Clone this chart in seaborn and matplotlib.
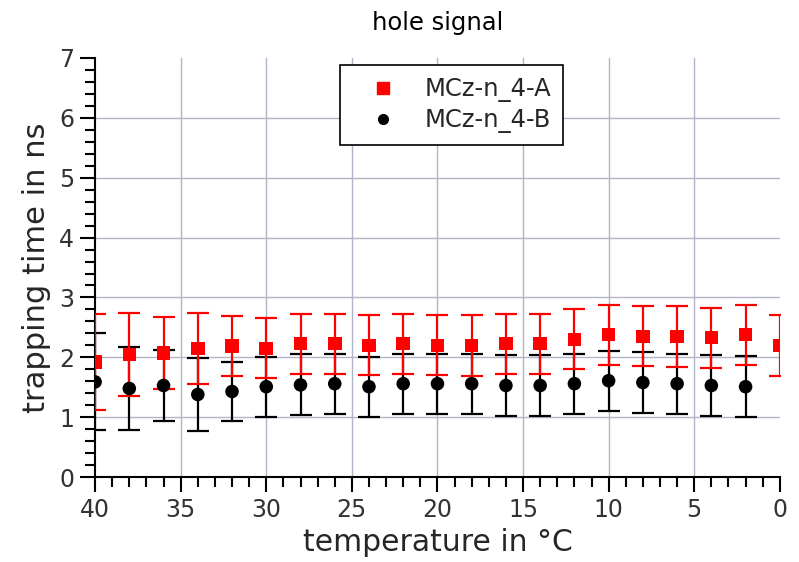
import numpy as np
import pandas as pd
import matplotlib
matplotlib.use("Agg")
import matplotlib.pyplot as plt
from matplotlib.ticker import MultipleLocator
from matplotlib.lines import Line2D
import seaborn as sns

temp_a = [40, 38, 36, 34, 32, 30, 28, 26, 24, 22, 20, 18, 16, 14, 12, 10, 8, 6, 4, 2, 0]
tau_a = [1.92, 2.05, 2.07, 2.15, 2.19, 2.15, 2.23, 2.23, 2.20, 2.23, 2.20,
         2.20, 2.23, 2.23, 2.30, 2.38, 2.35, 2.35, 2.33, 2.38, 2.20]
err_a = [0.80, 0.69, 0.60, 0.59, 0.50, 0.50, 0.50, 0.50, 0.50, 0.50, 0.50,
         0.51, 0.50, 0.50, 0.50, 0.50, 0.50, 0.51, 0.50, 0.50, 0.51]

temp_b = [40, 38, 36, 34, 32, 30, 28, 26, 24, 22, 20, 18, 16, 14, 12, 10, 8, 6, 4, 2]
tau_b = [1.59, 1.48, 1.53, 1.38, 1.43, 1.51, 1.54, 1.56, 1.51, 1.56,
         1.56, 1.56, 1.53, 1.53, 1.56, 1.61, 1.58, 1.56, 1.53, 1.51]
err_b = [0.81, 0.70, 0.60, 0.61, 0.50, 0.50, 0.51, 0.50, 0.50, 0.50,
         0.50, 0.50, 0.51, 0.51, 0.50, 0.50, 0.51, 0.50, 0.51, 0.51]

labels = ["MCz-n_4-A", "MCz-n_4-B"]
colors = ["#ff0000", "#000000"]

sns.set_style("white")
plt.rcParams['font.family'] = ['DejaVu Sans']

fig = plt.figure(figsize=(7.99, 5.62), dpi=100)
ax = fig.add_axes([0.119, 0.151, 0.857, 0.746])

df = pd.concat([
    pd.DataFrame({"temp": temp_a, "tau": tau_a, "sample": labels[0]}),
    pd.DataFrame({"temp": temp_b, "tau": tau_b, "sample": labels[1]}),
])

ax.errorbar(temp_b, tau_b, yerr=err_b, fmt='none', ecolor=colors[1],
            elinewidth=1.6, capsize=8, capthick=1.6, zorder=3)
ax.errorbar(temp_a, tau_a, yerr=err_a, fmt='none', ecolor=colors[0],
            elinewidth=1.6, capsize=8, capthick=1.6, zorder=3)

sns.scatterplot(data=df, x="temp", y="tau", hue="sample", style="sample",
                palette=dict(zip(labels, colors)),
                markers={labels[0]: "s", labels[1]: "o"},
                s=95, edgecolor="none", linewidth=0, ax=ax, legend=False, zorder=4)

ax.set_xlim(40, 0)
ax.set_ylim(0, 7)

ax.xaxis.set_major_locator(MultipleLocator(5))
ax.xaxis.set_minor_locator(MultipleLocator(1))
ax.yaxis.set_major_locator(MultipleLocator(1))
ax.yaxis.set_minor_locator(MultipleLocator(0.2))

ax.grid(True, which='major', color='#b4b4c8', linewidth=1.0)
ax.set_axisbelow(True)

for s in ['top', 'right']:
    ax.spines[s].set_visible(False)
for s in ['left', 'bottom']:
    ax.spines[s].set_color('black')
    ax.spines[s].set_linewidth(1.5)

ax.tick_params(which='major', direction='out', length=11, width=1.5, color='black',
               labelsize=17, labelcolor='#333333', left=True, bottom=True, pad=4)
ax.tick_params(which='minor', direction='out', length=7, width=1.5, color='black',
               left=True, bottom=True)

# hide grid lines that coincide with the plot edges
fig.canvas.draw()
for t in ax.xaxis.get_major_ticks():
    if abs(t.get_loc() - 0) < 1e-6 or abs(t.get_loc() - 40) < 1e-6:
        t.gridline.set_visible(False)
for t in ax.yaxis.get_major_ticks():
    if abs(t.get_loc() - 0) < 1e-6 or abs(t.get_loc() - 7) < 1e-6:
        t.gridline.set_visible(False)

ax.set_xlabel("temperature in °C", fontsize=21.5, labelpad=4)
ax.set_ylabel("trapping time in ns", fontsize=22, labelpad=6)
ax.set_title("hole signal", fontsize=17.5, pad=20, color='black')

handles = [
    Line2D([], [], linestyle='none', marker='s', color=colors[0], markersize=8.5),
    Line2D([], [], linestyle='none', marker='o', color=colors[1], markersize=7),
]
leg = ax.legend(handles, labels, loc='upper center', bbox_to_anchor=(0.521, 0.983),
                fontsize=17.5, frameon=True, fancybox=False, edgecolor='black',
                framealpha=1, borderpad=0.5, handletextpad=0.45, labelspacing=0.25,
                borderaxespad=0.0, handlelength=2.5)
leg.get_frame().set_linewidth(1.2)

fig.savefig("out.png", dpi=100)
